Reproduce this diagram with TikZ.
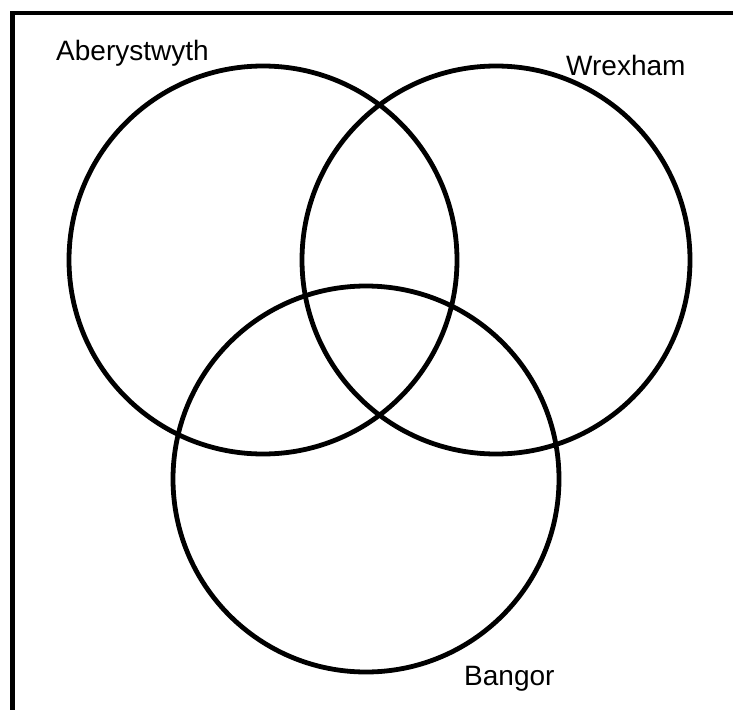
\documentclass[tikz,border=0pt]{standalone}
\usepackage{fontspec}
\setmainfont{Liberation Sans}
\begin{document}
\begin{tikzpicture}[x=1pt,y=-1pt,
  ring/.style={draw=black,line width=4.8pt},
  lbl/.style={font=\fontsize{28}{32}\selectfont,inner sep=0pt,anchor=base west}]
\clip (0,0) rectangle (733,709);
\useasboundingbox (0,0) rectangle (733,709);
\coordinate (bl) at (12.5,760);
\coordinate (tl) at (12.5,13);
\coordinate (tr) at (780,13);
\draw[line width=4.8pt] (bl) -- (tl) -- (tr);
\node[ring,circle,minimum size=388pt,inner sep=0pt] (A) at (263,260) {};
\node[ring,circle,minimum size=388pt,inner sep=0pt] (W) at (496,260) {};
\node[ring,circle,minimum size=386pt,inner sep=0pt] (B) at (366,479) {};
\node[lbl] (la) at (56,60) {Aberystwyth};
\node[lbl] (lw) at (566,75) {Wrexham};
\node[lbl] (lb) at (464,685) {Bangor};
\end{tikzpicture}
\end{document}
